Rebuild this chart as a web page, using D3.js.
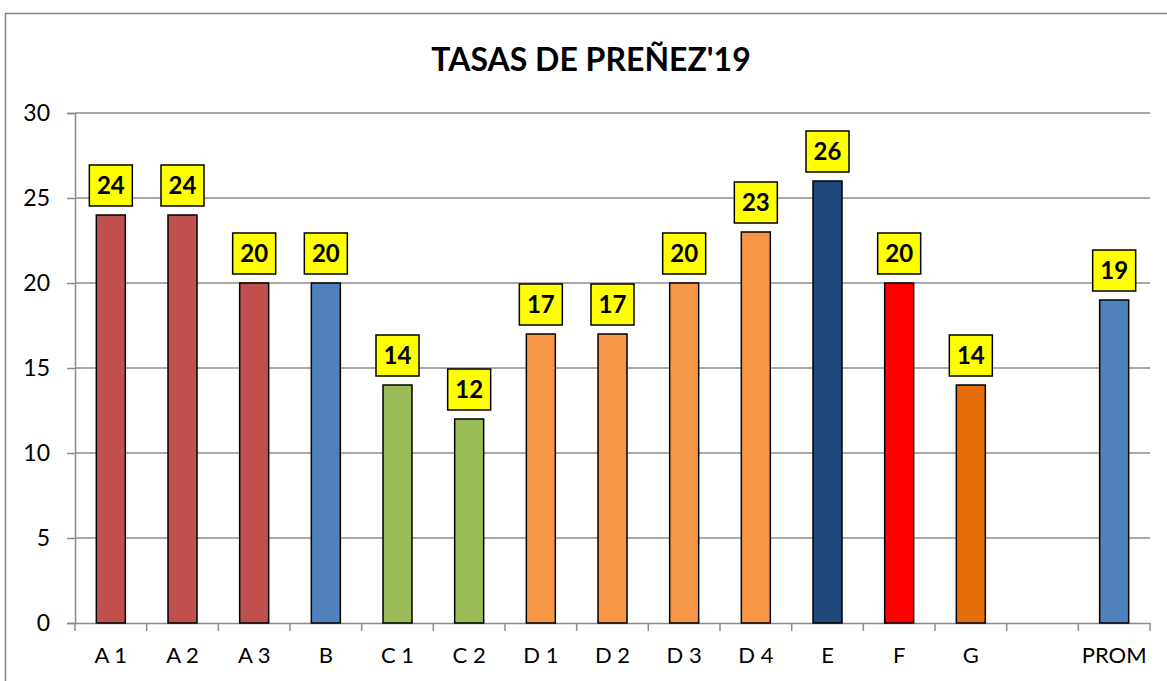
<!DOCTYPE html>
<html>
<head>
<meta charset="utf-8">
<script src="https://cdn.jsdelivr.net/npm/d3@7"></script>
<style>
  body { margin: 0; background: #fff; }
  svg { display: block; font-family: Lato, "Open Sans", sans-serif; }
</style>
</head>
<body>
<div id="container"></div>
<script>
// data
var categories = ['A 1', 'A 2', 'A 3', 'B', 'C 1', 'C 2', 'D 1', 'D 2', 'D 3', 'D 4', 'E', 'F', 'G', '', 'PROM'];
var values     = [24, 24, 20, 20, 14, 12, 17, 17, 20, 23, 26, 20, 14, null, 19];
var barColors  = ['#C0504D', '#C0504D', '#C0504D', '#4F81BD', '#9BBB59', '#9BBB59', '#F79646', '#F79646',
                  '#F79646', '#F79646', '#1F497D', '#FF0000', '#E46C0A', '#FFFFFF', '#4F81BD'];
var yTicks = [0, 5, 10, 15, 20, 25, 30];
var title = "TASAS DE PREÑEZ'19";

var W = 1167, H = 681;
var plotL = 75, plotR = 1150, plotT = 113, plotB = 623;

var svg = d3.select('#container')
  .append('svg')
  .attr('width', W)
  .attr('height', H);

// chart frame
svg.append('rect')
  .attr('x', 5.5).attr('y', 13.5)
  .attr('width', W + 10).attr('height', H + 10)
  .attr('fill', 'none')
  .attr('stroke', '#868686')
  .attr('stroke-width', 1.5);

var x = d3.scaleBand().domain(d3.range(categories.length)).range([plotL, plotR]);
var y = d3.scaleLinear().domain([0, 30]).range([plotB, plotT]);

// gridlines
svg.append('g').selectAll('line').data(yTicks.slice(1)).enter()
  .append('line')
  .attr('x1', plotL).attr('x2', plotR)
  .attr('y1', function(d) { return y(d); })
  .attr('y2', function(d) { return y(d); })
  .attr('stroke', '#8c8c8c')
  .attr('stroke-width', 1.5);

// y axis
var yAxis = svg.append('g')
  .attr('transform', 'translate(' + plotL + ',0)')
  .call(d3.axisLeft(y).tickValues(yTicks).tickSize(8).tickPadding(17));
yAxis.select('.domain').attr('stroke', '#8c8c8c').attr('stroke-width', 1.5);
yAxis.selectAll('.tick line').attr('stroke', '#8c8c8c').attr('stroke-width', 1.5);
yAxis.selectAll('text').attr('font-size', 23).attr('fill', '#000').attr('font-family', 'Lato, sans-serif');

// x axis
var xAxis = svg.append('g')
  .attr('transform', 'translate(0,' + plotB + ')')
  .call(d3.axisBottom(x).tickFormat(function(i) { return categories[i]; }).tickSize(0).tickPadding(24));
xAxis.select('.domain').attr('stroke', '#8c8c8c').attr('stroke-width', 1.5);
xAxis.selectAll('text').attr('font-size', 22).attr('fill', '#000').attr('font-family', 'Lato, sans-serif');

// category separators below the axis
svg.append('g').selectAll('line').data(d3.range(categories.length + 1)).enter()
  .append('line')
  .attr('x1', function(i) { return plotL + i * x.step(); })
  .attr('x2', function(i) { return plotL + i * x.step(); })
  .attr('y1', plotB).attr('y2', plotB + 8)
  .attr('stroke', '#8c8c8c')
  .attr('stroke-width', 1.5);

var barW = 29;
var data = values.map(function(v, i) { return { i: i, v: v, c: barColors[i] }; })
  .filter(function(d) { return d.v != null; });

svg.append('g').selectAll('rect').data(data).enter()
  .append('rect')
  .attr('x', function(d) { return x(d.i) + x.bandwidth() / 2 - barW / 2; })
  .attr('y', function(d) { return y(d.v); })
  .attr('width', barW)
  .attr('height', function(d) { return plotB - y(d.v); })
  .attr('fill', function(d) { return d.c; })
  .attr('stroke', '#000')
  .attr('stroke-width', 1.5);

// value labels
var lab = svg.append('g').selectAll('g').data(data).enter()
  .append('g')
  .attr('transform', function(d) {
    return 'translate(' + (x(d.i) + x.bandwidth() / 2) + ',' + (y(d.v) - 9) + ')';
  });
lab.append('rect')
  .attr('x', -21.5).attr('y', -41)
  .attr('width', 43).attr('height', 41)
  .attr('fill', '#FFFF00')
  .attr('stroke', '#000')
  .attr('stroke-width', 1.5);
lab.append('text')
  .attr('x', 0).attr('y', -12)
  .attr('text-anchor', 'middle')
  .attr('font-size', 24)
  .attr('font-weight', 'bold')
  .text(function(d) { return d.v; });

// title
svg.append('text')
  .attr('x', 591).attr('y', 71)
  .attr('text-anchor', 'middle')
  .attr('font-size', 32)
  .attr('font-weight', 'bold')
  .text(title);
</script>
</body>
</html>
